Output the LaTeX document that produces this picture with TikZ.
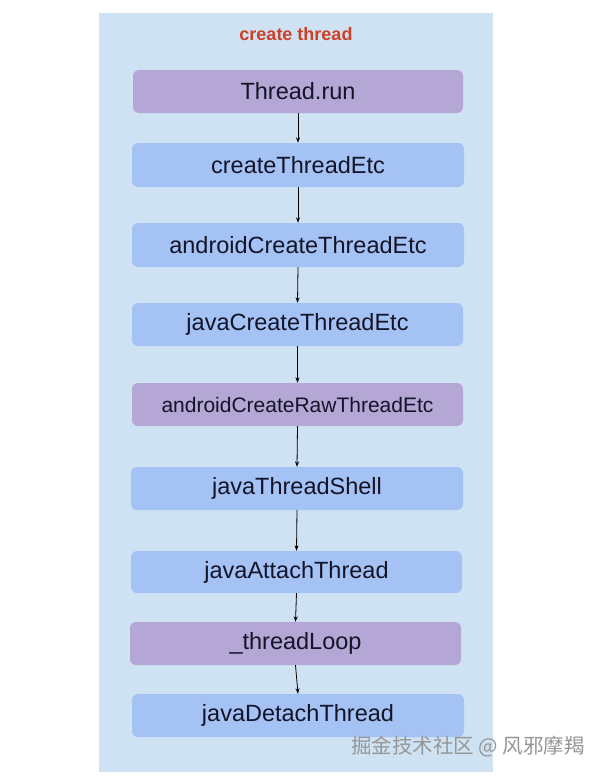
\documentclass[tikz,border=0pt]{standalone}
\usepackage{fontspec}
\setmainfont{Liberation Sans}
\newfontfamily\cjkfont{Noto Sans CJK SC}
\usetikzlibrary{arrows.meta}
\definecolor{panelbg}{RGB}{207,226,243}
\definecolor{boxblue}{RGB}{164,194,244}
\definecolor{boxpurple}{RGB}{180,167,214}
\definecolor{titlered}{RGB}{204,65,37}
\definecolor{txtdark}{RGB}{20,20,40}
\definecolor{wmgray}{RGB}{150,150,150}
\tikzset{
  fbox/.style={rectangle, rounded corners=6pt, draw=none, inner sep=0pt,
    text=txtdark, font=\fontsize{23.5}{26}\selectfont},
  bluebox/.style={fbox, fill=boxblue},
  purplebox/.style={fbox, fill=boxpurple},
  flow/.style={-{Stealth[length=5.5pt,width=4pt]}, line width=0.8pt, black}
}
\begin{document}
\begin{tikzpicture}[x=1pt,y=-1pt]
\useasboundingbox (0,0) rectangle (605,779);
\fill[white] (0,0) rectangle (605,779);
\fill[panelbg] (99,13) rectangle (493,772);
\node[font=\bfseries\fontsize{18}{20}\selectfont, text=titlered] (title) at (296,34) {create thread};

\node[purplebox, minimum width=330pt, minimum height=43pt] (n1) at (298,91.5) {Thread.run};
\node[bluebox, minimum width=332pt, minimum height=44pt] (n2) at (298,165) {createThreadEtc};
\node[bluebox, minimum width=332pt, minimum height=44pt] (n3) at (298,245) {androidCreateThreadEtc};
\node[bluebox, minimum width=331pt, minimum height=43pt] (n4) at (297.5,324.5) {javaCreateThreadEtc};
\node[purplebox, minimum width=331pt, minimum height=43pt, font=\fontsize{21}{24}\selectfont] (n5) at (297.5,404.5) {androidCreateRawThreadEtc};
\node[bluebox, minimum width=332pt, minimum height=43pt] (n6) at (297,488.5) {javaThreadShell};
\node[bluebox, minimum width=331pt, minimum height=42pt] (n7) at (296.5,572) {javaAttachThread};
\node[purplebox, minimum width=331pt, minimum height=43pt] (n8) at (295.5,643.5) {\_threadLoop};
\node[bluebox, minimum width=332pt, minimum height=43pt] (n9) at (298,715.5) {javaDetachThread};

\draw[flow] (n1.south) -- (n2.north);
\draw[flow] (n2.south) -- (n3.north);
\draw[flow] (n3.south) -- (n4.north);
\draw[flow] (n4.south) -- (n5.north);
\draw[flow] (n5.south) -- (n6.north);
\draw[flow] (n6.south) -- (n7.north);
\draw[flow] (n7.south) -- (n8.north);
\draw[flow] (n8.south) -- (n9.north);

\node[font=\cjkfont\fontsize{20.5}{23}\selectfont, text=wmgray, anchor=west, inner sep=0pt] (wm) at (351,747) {掘金技术社区 @ 风邪摩羯};
\end{tikzpicture}
\end{document}
